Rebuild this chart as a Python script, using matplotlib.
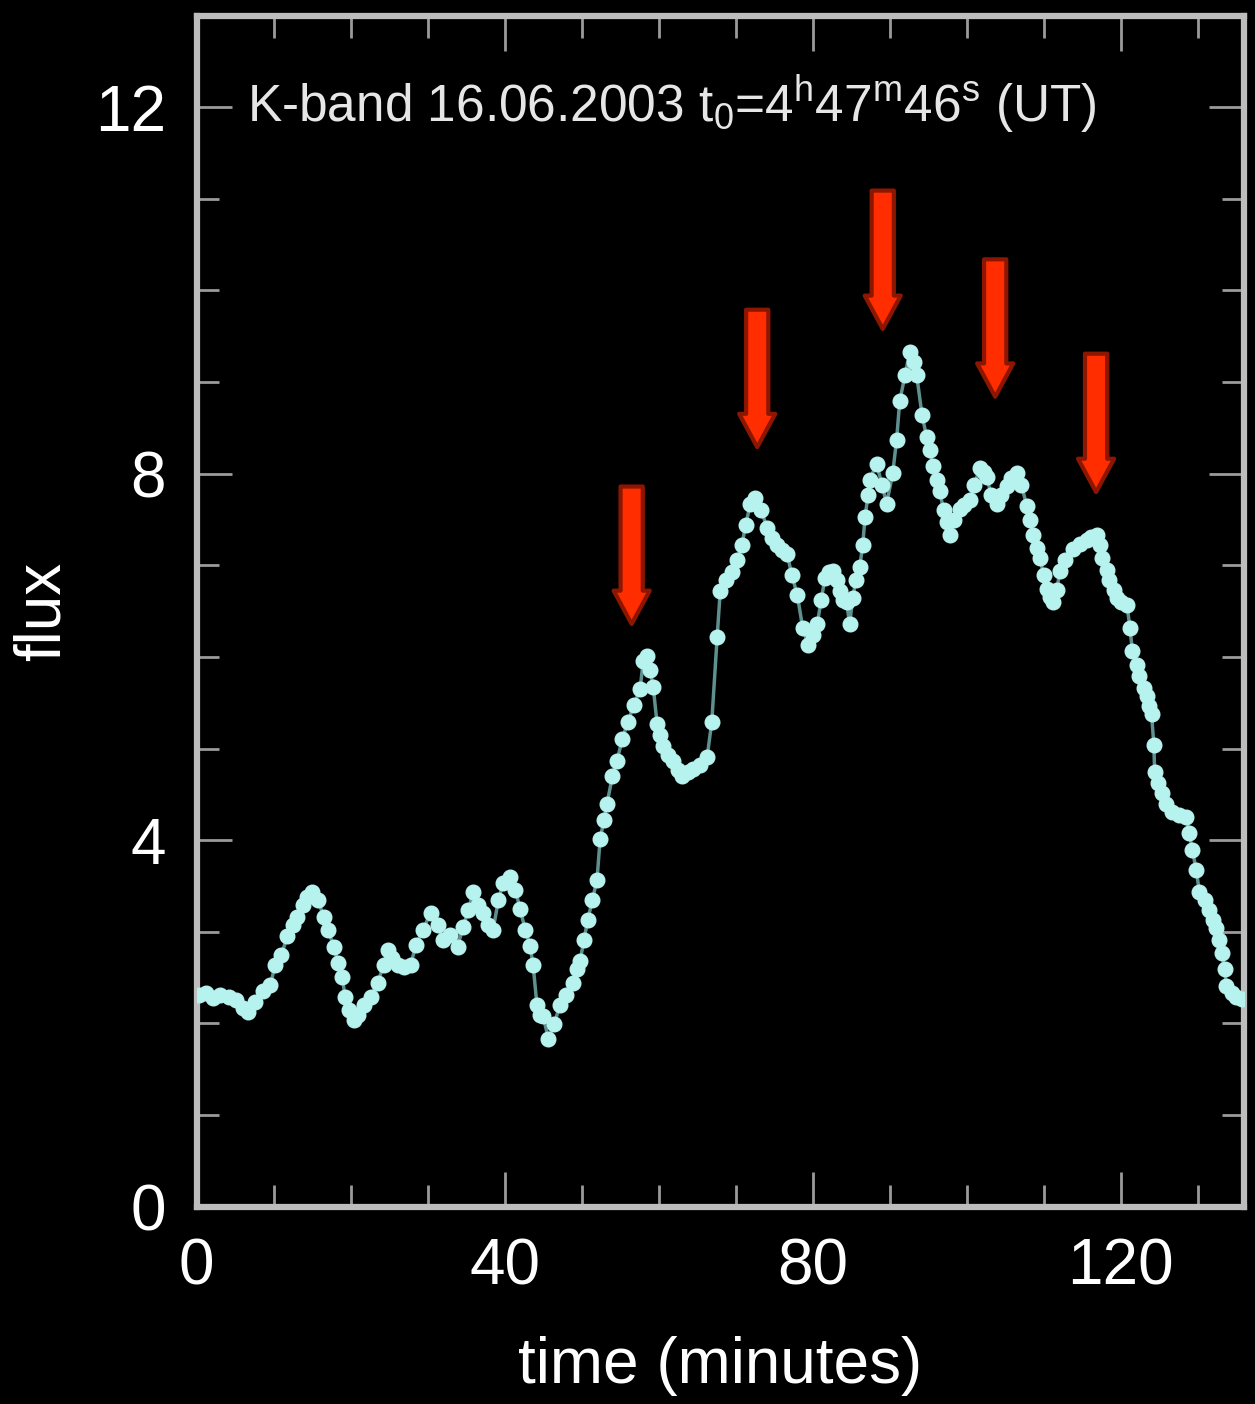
import matplotlib
matplotlib.use("Agg")
import matplotlib.pyplot as plt
from matplotlib.ticker import MultipleLocator

plt.rcParams['font.family'] = ['Liberation Sans', 'DejaVu Sans']
plt.rcParams['mathtext.default'] = 'regular'

# light curve: time (minutes), flux
time_min = [0.3, 1.2, 2.1, 3.1, 4.2, 5.1, 6.0, 6.7, 7.6, 8.6, 9.6, 10.2, 11.0, 11.8, 12.5,
            13.1, 13.8, 14.4, 15.0, 15.8, 16.5, 17.1, 17.8, 18.4, 18.9, 19.3, 19.8, 20.4, 21.0,
            21.8, 22.6, 23.5, 24.3, 24.8, 25.4, 26.2, 26.9, 27.8, 28.5, 29.4, 30.4, 31.3, 32.0,
            32.9, 33.9, 34.6, 35.3, 35.9, 36.6, 37.2, 37.9, 38.5, 39.2, 39.8, 40.7, 41.4, 42.0,
            42.7, 43.3, 43.7, 44.2, 44.6, 45.0, 45.7, 46.4, 47.2, 48.0, 48.9, 49.4, 49.8, 50.3,
            50.8, 51.4, 52.0, 52.4, 52.9, 53.3, 54.0, 54.6, 55.3, 56.0, 56.8, 57.6, 58.0, 58.5,
            58.9, 59.3, 59.8, 60.2, 60.6, 61.2, 61.9, 62.5, 63.0, 63.8, 64.5, 65.4, 66.3, 66.9,
            67.6, 68.0, 68.8, 69.5, 70.2, 70.8, 71.3, 71.9, 72.5, 73.3, 74.1, 74.7, 75.4, 76.0,
            76.7, 77.3, 78.0, 78.7, 79.4, 80.0, 80.6, 81.1, 81.6, 82.1, 82.6, 83.1, 83.5, 84.0,
            84.4, 84.8, 85.2, 85.6, 86.1, 86.5, 86.8, 87.2, 87.4, 88.3, 89.0, 89.6, 90.4, 90.9,
            91.3, 92.0, 92.6, 93.1, 93.5, 94.2, 94.8, 95.2, 95.6, 96.1, 96.5, 97.0, 97.4, 97.8,
            98.4, 99.1, 99.7, 100.4, 101.0, 101.7, 102.2, 102.6, 103.2, 103.9, 104.5, 105.2,
            105.8, 106.5, 107.1, 107.8, 108.2, 108.6, 109.1, 109.5, 110.0, 110.4, 110.8, 111.2,
            111.7, 112.1, 112.8, 113.8, 114.7, 115.6, 116.2, 116.9, 117.3, 117.6, 118.2, 118.5,
            119.1, 119.5, 120.1, 120.8, 121.2, 121.5, 122.1, 122.4, 123.0, 123.4, 123.7, 124.0,
            124.3, 124.4, 124.8, 125.3, 125.9, 126.7, 127.6, 128.5, 128.9, 129.3, 129.8, 130.2,
            130.9, 131.5, 132.0, 132.4, 132.8, 133.1, 133.5, 133.7, 134.4, 135.0, 135.7]
flux = [2.31, 2.33, 2.28, 2.31, 2.29, 2.26, 2.17, 2.12, 2.23, 2.35, 2.42, 2.64, 2.75, 2.95, 3.08,
        3.16, 3.29, 3.38, 3.43, 3.35, 3.16, 3.02, 2.84, 2.66, 2.51, 2.29, 2.15, 2.04, 2.09,
        2.20, 2.29, 2.44, 2.64, 2.80, 2.72, 2.64, 2.62, 2.64, 2.86, 3.02, 3.21, 3.08, 2.91,
        2.97, 2.84, 3.05, 3.24, 3.43, 3.29, 3.21, 3.08, 3.02, 3.35, 3.53, 3.60, 3.46, 3.25,
        3.02, 2.85, 2.64, 2.20, 2.09, 2.08, 1.83, 1.99, 2.20, 2.31, 2.44, 2.59, 2.68, 2.91,
        3.13, 3.35, 3.57, 4.01, 4.22, 4.40, 4.70, 4.87, 5.11, 5.29, 5.48, 5.65, 5.96, 6.01,
        5.86, 5.67, 5.27, 5.15, 5.03, 4.93, 4.87, 4.77, 4.70, 4.75, 4.78, 4.82, 4.91, 5.29,
        6.22, 6.72, 6.84, 6.93, 7.06, 7.22, 7.44, 7.67, 7.73, 7.60, 7.41, 7.30, 7.22, 7.17,
        7.12, 6.89, 6.68, 6.32, 6.13, 6.24, 6.36, 6.62, 6.86, 6.93, 6.94, 6.84, 6.72, 6.62,
        6.60, 6.36, 6.64, 6.84, 6.98, 7.22, 7.53, 7.77, 7.93, 8.11, 7.88, 7.67, 8.01, 8.37,
        8.79, 9.08, 9.33, 9.22, 9.08, 8.64, 8.40, 8.26, 8.08, 7.93, 7.81, 7.60, 7.47, 7.33,
        7.49, 7.61, 7.66, 7.71, 7.88, 8.06, 8.02, 7.96, 7.77, 7.67, 7.77, 7.87,
        7.95, 8.01, 7.88, 7.65, 7.49, 7.33, 7.19, 7.08, 6.89, 6.74, 6.65, 6.60,
        6.73, 6.94, 7.06, 7.18, 7.23, 7.28, 7.31, 7.33, 7.22, 7.08, 6.95, 6.84,
        6.73, 6.64, 6.60, 6.57, 6.32, 6.07, 5.91, 5.79, 5.66, 5.57, 5.47, 5.38,
        5.04, 4.75, 4.63, 4.51, 4.40, 4.31, 4.28, 4.25, 4.08, 3.89, 3.68, 3.44,
        3.35, 3.24, 3.13, 3.04, 2.91, 2.77, 2.59, 2.41, 2.33, 2.29, 2.27]

# red arrows marking the flare peaks
arrow_x = [56.5, 72.8, 89.1, 103.7, 116.8]
arrow_top = [7.86, 9.79, 11.09, 10.34, 9.31]
arrow_tip = [6.36, 8.29, 9.58, 8.84, 7.80]

axis_col = '#bdbdbd'

fig = plt.figure(figsize=(12.55, 14.04), dpi=100, facecolor='black')
ax = fig.add_axes([0.1566, 0.1405, 0.8346, 0.8484])
ax.set_facecolor('black')

ax.plot(time_min, flux, color='#5f9090', linewidth=2.5, zorder=2)
ax.plot(time_min, flux, linestyle='none', marker='o', markersize=10.5,
        markerfacecolor='#b6f2ee', markeredgecolor='#b6f2ee', zorder=3)

for x, top, tip in zip(arrow_x, arrow_top, arrow_tip):
    ax.annotate('', xy=(x, tip), xytext=(x, top),
                arrowprops=dict(arrowstyle='simple,head_length=1.2,head_width=1.3,tail_width=0.8',
                                facecolor='#ff2d00', edgecolor='#8c1600', linewidth=3,
                                shrinkA=0, shrinkB=0, mutation_scale=20), zorder=4)

ax.set_xlim(0, 136)
ax.set_ylim(0, 13)
ax.xaxis.set_major_locator(MultipleLocator(40))
ax.xaxis.set_minor_locator(MultipleLocator(10))
ax.yaxis.set_major_locator(MultipleLocator(4))
ax.yaxis.set_minor_locator(MultipleLocator(1))

for s in ax.spines.values():
    s.set_color(axis_col)
    s.set_linewidth(4.5)

ax.tick_params(which='both', direction='in', top=True, right=True, color='#9a9a9a',
               labelcolor='white', labelsize=46, pad=22)
ax.tick_params(which='major', length=25, width=2)
ax.tick_params(which='minor', length=16, width=2)

ax.set_xlabel('time (minutes)', fontsize=46, color='white', labelpad=28)
ax.set_ylabel('flux', fontsize=46, color='white', labelpad=16)

ax.text(0.048, 0.926, r'K-band 16.06.2003 t$_0$=4$^h$47$^m$46$^s$ (UT)',
        transform=ax.transAxes, fontsize=37, color='#e6e6e6', va='center', ha='left')

fig.savefig('out.png', dpi=100, facecolor='black')
